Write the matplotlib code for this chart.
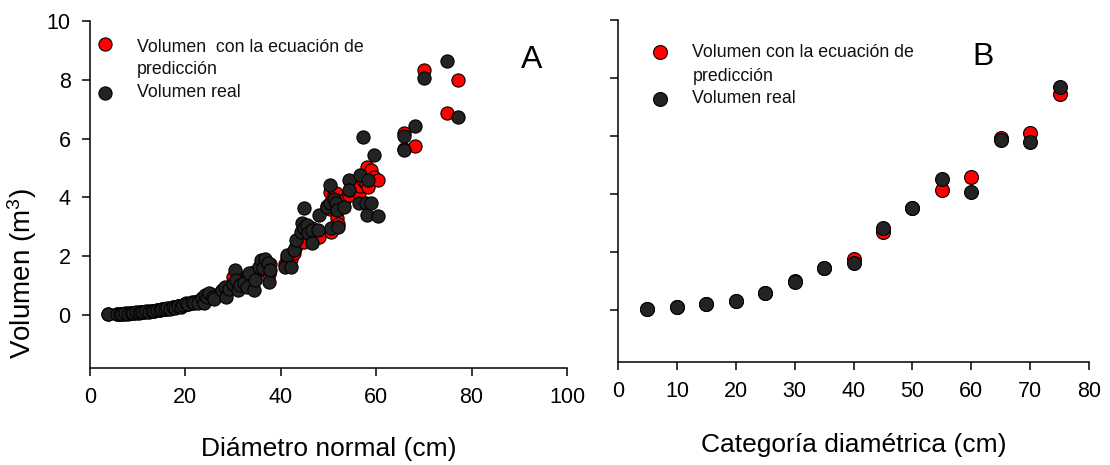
import matplotlib
matplotlib.use("Agg")
import matplotlib.pyplot as plt

plt.rcParams['font.family'] = ['Liberation Sans', 'DejaVu Sans']

# Panel A: individual trees, diameter (cm) and volume (m3)
diametro = [3.8, 5.6, 6.2, 6.8, 7.3, 7.9, 8.5, 9.0, 9.6, 10.2, 10.7, 11.2, 11.8, 12.3,
            12.9, 13.4, 14.0, 14.6, 15.1, 15.7, 16.2, 16.8, 17.3, 17.9, 18.4, 19.0,
            19.5, 20.1, 20.6, 21.3, 21.8, 22.6, 23.4, 23.8, 24.1, 24.6, 24.9, 25.7,
            25.9, 27.6, 28.4, 28.6, 29.2, 29.9, 30.3, 30.7, 31.1, 31.5, 32.3, 33.0,
            33.4, 34.4, 34.6, 35.4, 35.8, 36.3, 36.6, 37.3, 37.5, 37.7, 40.8, 41.2,
            42.2, 42.7, 43.1, 44.3, 44.4, 44.8, 44.8, 45.4, 45.8, 46.6, 46.6, 47.8,
            48.1, 49.7, 50.3, 50.3, 50.6, 51.2, 51.5, 51.8, 51.9, 53.2, 54.3, 54.3,
            56.3, 56.7, 57.2, 57.8, 58.0, 58.2, 59.0, 59.5, 60.4, 65.9, 65.9, 68.2,
            70.0, 74.8, 77.2]
vol_real = [0.03, 0.02, 0.04, 0.03, 0.06, 0.05, 0.07, 0.06, 0.09, 0.08, 0.11, 0.10, 0.13,
            0.12, 0.15, 0.14, 0.17, 0.16, 0.20, 0.19, 0.24, 0.22, 0.27, 0.25, 0.31, 0.29,
            0.35, 0.41, 0.37, 0.46, 0.40, 0.40, 0.57, 0.42, 0.68, 0.60, 0.74, 0.62, 0.53,
            0.85, 0.96, 0.62, 0.90, 1.05, 1.53, 1.19, 0.85, 1.02, 1.08, 0.96, 1.42, 0.85,
            1.20, 1.64, 1.87, 1.59, 1.89, 1.76, 1.13, 1.53, 1.64, 2.04, 1.64, 2.21, 2.55,
            2.83, 3.14, 2.95, 3.63, 3.06, 2.78, 2.89, 2.44, 2.89, 3.40, 3.68, 4.44, 3.82,
            2.95, 3.95, 3.80, 3.57, 3.00, 3.68, 4.59, 4.25, 3.80, 4.78, 6.07, 3.80, 3.40,
            4.59, 3.82, 5.44, 3.37, 6.09, 5.61, 6.43, 8.05, 8.64, 6.75]
vol_pred = [0.02, 0.03, 0.04, 0.04, 0.05, 0.06, 0.06, 0.07, 0.08, 0.09, 0.10, 0.11, 0.12,
            0.13, 0.14, 0.15, 0.16, 0.18, 0.19, 0.21, 0.22, 0.24, 0.26, 0.28, 0.30, 0.32,
            0.34, 0.37, 0.39, 0.42, 0.44, 0.48, 0.52, 0.54, 0.56, 0.59, 0.61, 0.66, 0.67,
            0.80, 0.87, 0.88, 0.93, 1.30, 1.10, 1.13, 1.16, 1.20, 1.27, 1.33, 1.37, 1.46,
            1.25, 1.55, 1.62, 1.66, 1.75, 1.45, 1.40, 1.72, 1.75, 1.95, 1.90, 2.10, 2.35,
            2.60, 2.75, 2.50, 3.05, 2.85, 2.80, 2.95, 2.60, 2.65, 2.64, 3.70, 4.20, 3.60,
            2.83, 4.10, 4.16, 3.29, 3.10, 3.90, 4.08, 4.10, 4.14, 4.40, 4.60, 4.50, 5.04,
            4.34, 4.95, 4.70, 4.59, 6.20, 5.65, 5.75, 8.33, 6.86, 7.99]

# Panel B: diameter classes
categoria = [5, 10, 15, 20, 25, 30, 35, 40, 45, 50, 55, 60, 65, 70, 75]
cat_real = [0.03, 0.09, 0.20, 0.32, 0.57, 0.97, 1.45, 1.61, 2.84, 3.53, 4.52, 4.05, 5.86, 5.78, 7.70]
cat_pred = [0.03, 0.09, 0.20, 0.32, 0.57, 0.98, 1.46, 1.76, 2.70, 3.53, 4.14, 4.59, 5.93, 6.09, 7.44]

ROJO = '#ff0000'
NEGRO = '#232323'

fig = plt.figure(figsize=(11.1, 4.65), dpi=100)
axA = fig.add_axes([0.0811, 0.2086, 0.4297, 0.7462])
axB = fig.add_axes([0.5568, 0.2215, 0.4243, 0.7355])


def estilo(ax, ticksize):
    for s in ['top', 'right']:
        ax.spines[s].set_visible(False)
    for s in ['left', 'bottom']:
        ax.spines[s].set_linewidth(1.1)
    ax.tick_params(direction='out', length=6, width=1.1, labelsize=ticksize, pad=8)
    ax.set_ylim(-1.8, 10)
    ax.set_yticks([0, 2, 4, 6, 8, 10])


def leyenda(ax, textos, mx, my1, my2, tx, ty, s):
    ax.scatter([mx], [my1], s=s, c=ROJO, edgecolors='black', linewidths=0.8,
               transform=ax.transAxes, clip_on=False)
    ax.scatter([mx], [my2], s=s, c=NEGRO, edgecolors='black', linewidths=0.8,
               transform=ax.transAxes, clip_on=False)
    for texto, y in zip(textos, ty):
        ax.text(tx, y, texto, transform=ax.transAxes, fontsize=12.8,
                va='center', ha='left', color='#111111')


# Panel A
axA.scatter(diametro, vol_pred, s=90, c=ROJO, edgecolors='black', linewidths=0.8, zorder=3)
axA.scatter(diametro, vol_real, s=90, c=NEGRO, edgecolors='black', linewidths=0.8, zorder=4)
estilo(axA, 15.5)
axA.set_xlim(0, 100)
axA.set_xticks([0, 20, 40, 60, 80, 100])
axA.set_xlabel('Diámetro normal (cm)', fontsize=19)
axA.xaxis.set_label_coords(0.5, -0.199)
axA.set_ylabel(r'Volumen $\mathregular{(m^3)}$', fontsize=20)
axA.yaxis.set_label_coords(-0.108, 0.271)
leyenda(axA, ['Volumen  con la ecuación de', 'predicción', 'Volumen real'],
        0.031, 0.934, 0.793, 0.0985, [0.925, 0.859, 0.793], 90)
axA.text(0.925, 0.888, 'A', transform=axA.transAxes, fontsize=23, ha='center', va='center')

# Panel B
axB.scatter(categoria, cat_pred, s=100, c=ROJO, edgecolors='black', linewidths=0.8, zorder=3)
axB.scatter(categoria, cat_real, s=100, c=NEGRO, edgecolors='black', linewidths=0.8, zorder=4)
estilo(axB, 15.5)
axB.set_xlim(0, 80)
axB.set_xticks(range(0, 81, 10))
axB.set_yticklabels([])
axB.set_xlabel('Categoría diamétrica (cm)', fontsize=19)
axB.xaxis.set_label_coords(0.5, -0.208)
leyenda(axB, ['Volumen con la ecuación de', 'predicción', 'Volumen real'],
        0.090, 0.906, 0.769, 0.158, [0.904, 0.836, 0.769], 100)
axB.text(0.775, 0.892, 'B', transform=axB.transAxes, fontsize=23, ha='center', va='center')

fig.savefig('out.png', dpi=100)
